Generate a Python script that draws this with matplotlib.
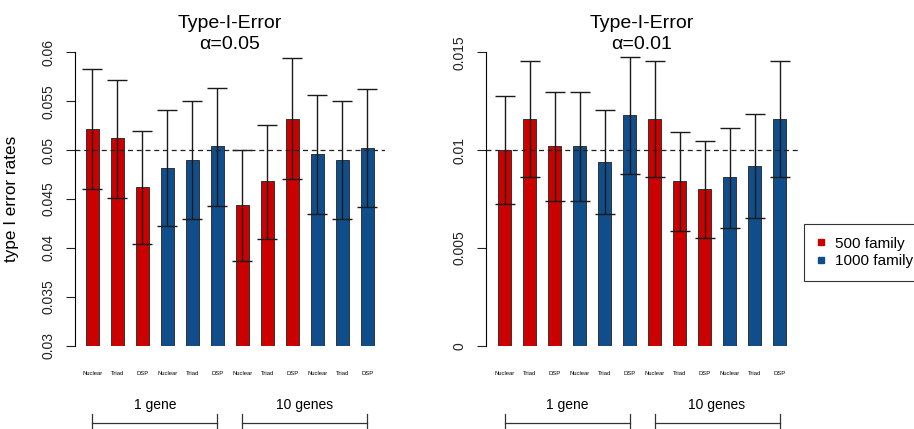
import numpy as np
import matplotlib
matplotlib.use('Agg')
import matplotlib.pyplot as plt
from matplotlib.lines import Line2D

plt.rcParams['font.family'] = ['Liberation Sans', 'DejaVu Sans']

# bar labels and groups
designs = ['Nuclear', 'Triad', 'DSP'] * 4
groups = ['1 gene', '10 genes']
bars_per_group = 6
fam_colors = ['#CD0000', '#CD0000', '#CD0000', '#104E8B', '#104E8B', '#104E8B'] * 2
legend_labels = ['500 family', '1000 family']

# alpha = 0.05
rate_05 = [0.0522, 0.0512, 0.0462, 0.0482, 0.0490, 0.0504,
           0.0444, 0.0468, 0.0532, 0.0496, 0.0490, 0.0502]
upper_05 = [0.0583, 0.0572, 0.0520, 0.0541, 0.0550, 0.0564,
            0.0500, 0.0526, 0.0594, 0.0556, 0.0550, 0.0562]
lower_05 = [0.0460, 0.0451, 0.0404, 0.0422, 0.0430, 0.0443,
            0.0387, 0.0409, 0.0470, 0.0435, 0.0430, 0.0442]

# alpha = 0.01
rate_01 = [0.0100, 0.0116, 0.0102, 0.0102, 0.0094, 0.0118,
           0.0116, 0.0084, 0.0080, 0.0086, 0.0092, 0.0116]
upper_01 = [0.01275, 0.01456, 0.01296, 0.01296, 0.01207, 0.01478,
            0.01456, 0.01091, 0.01045, 0.01115, 0.01183, 0.01456]
lower_01 = [0.00725, 0.00861, 0.0074, 0.0074, 0.00672, 0.0088,
            0.00861, 0.00585, 0.00551, 0.00602, 0.00655, 0.00861]

W, H = 914, 429


def panel(fig, rect_px, xlim, rate, lo, hi, ylim, yticks, yticklabels, alpha_txt):
    x0, x1, ytop, ybot = rect_px
    ax = fig.add_axes([x0 / W, (H - ybot) / H, (x1 - x0) / W, (ybot - ytop) / H])
    x = np.arange(len(rate))
    rate = np.array(rate)
    ax.bar(x, rate, width=0.5, color=fam_colors, edgecolor='#333333', linewidth=0.7)
    ax.errorbar(x, rate, yerr=[rate - np.array(lo), np.array(hi) - rate], fmt='none',
                ecolor='#1a1a1a', elinewidth=1.0, capsize=7.2, capthick=1.0)
    ax.axhline(alpha_txt[1], color='#222222', linestyle=(0, (4, 3)), linewidth=0.9)
    ax.set_xlim(*xlim)
    ax.set_ylim(*ylim)
    for s in ['top', 'right', 'bottom']:
        ax.spines[s].set_visible(False)
    ax.spines['left'].set_linewidth(0.8)
    ax.set_yticks(yticks)
    ax.set_yticklabels(yticklabels, rotation=90, va='center')
    ax.tick_params(axis='y', length=6.5, width=0.8, pad=7.5, labelsize=10, colors='#222222')
    ax.set_xticks(x)
    ax.set_xticklabels(designs, fontsize=4.2)
    ax.tick_params(axis='x', length=0, pad=18.5)

    # title lines
    cx = (x0 + x1) / 2 / W
    fig.text(cx, 1 - 28 / H, 'Type-I-Error', ha='center', va='baseline', fontsize=14)
    fig.text(cx, 1 - 49 / H, alpha_txt[0], ha='center', va='baseline', fontsize=14)

    # group brackets below the axis
    tr = ax.get_xaxis_transform()
    span = ybot - ytop
    def yax(py):
        return (ybot - py) / span
    for g, name in enumerate(groups):
        a = x[g * bars_per_group]
        b = x[(g + 1) * bars_per_group - 1]
        ax.plot([a, b], [yax(422.7), yax(422.7)], transform=tr, color='#333333',
                lw=0.9, clip_on=False)
        for xe in (a, b):
            ax.plot([xe, xe], [yax(414), yax(432)], transform=tr, color='#333333',
                    lw=0.9, clip_on=False)
        ax.text((a + b) / 2, yax(405), name, transform=tr, ha='center', va='center',
                fontsize=10)
    return ax


def main():
    fig = plt.figure(figsize=(W / 100, H / 100), dpi=100)

    ax1 = panel(fig, (75, 385, 52.3, 345.7), (-0.692, 11.708), rate_05, lower_05, upper_05,
                (0.03, 0.06), [0.03, 0.035, 0.04, 0.045, 0.05, 0.055, 0.06],
                ['0.03', '0.035', '0.04', '0.045', '0.05', '0.055', '0.06'], ('α=0.05', 0.05))
    ax1.set_ylabel('type I error rates', fontsize=12.3, labelpad=6)
    ax1.yaxis.set_label_coords(-(75 - 19) / 310, 0.5)

    panel(fig, (485.7, 797.7, 52.3, 345.7), (-0.752, 11.728), rate_01, lower_01, upper_01,
          (0.0, 0.015), [0.0, 0.005, 0.01, 0.015], ['0', '0.005', '0.01', '0.015'],
          ('α=0.01', 0.01))

    handles = [Line2D([], [], marker='s', linestyle='none', color=c, markersize=4.5)
               for c in ['#CD0000', '#104E8B']]
    leg = fig.legend(handles, legend_labels, loc='upper left',
                     bbox_to_anchor=(804 / W, 1 - 224.3 / H),
                     fontsize=11, frameon=True, fancybox=False, edgecolor='#333333',
                     framealpha=1, borderpad=0.8, handlelength=0.6, handletextpad=0.6,
                     labelspacing=0.25, borderaxespad=0)
    leg.get_frame().set_linewidth(0.8)

    fig.savefig('out.png', dpi=100)


if __name__ == '__main__':
    main()
